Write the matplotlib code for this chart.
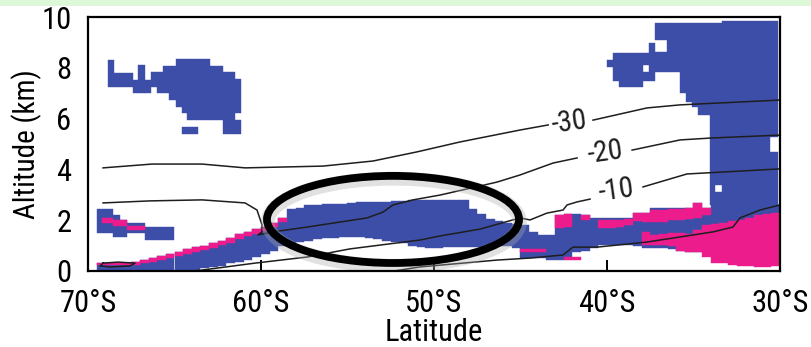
import numpy as np
import matplotlib
matplotlib.use("Agg")
import matplotlib.pyplot as plt
from matplotlib.patches import Ellipse, Rectangle
import matplotlib.patheffects as pe

plt.rcParams["font.family"] = ["Roboto Condensed", "Open Sans", "DejaVu Sans"]

BLUE = "#3d4ea8"
PINK = "#ec1c8d"

## cloud blocks, upper left (lat left, lat right, bottom km, top km)
ul_lat_l = [-68.84, -68.50, -67.40, -67.11, -66.71, -66.36, -66.01, -65.66, -65.32, -64.91, -64.57, -64.28, -62.95, -62.20, -61.50, -61.50, -64.57]
ul_lat_r = [-68.50, -67.40, -67.11, -66.71, -66.36, -66.01, -65.66, -65.32, -64.91, -64.57, -64.28, -62.95, -62.20, -61.50, -61.16, -61.16, -63.64]
ul_bot = [7.24, 7.24, 7.01, 7.01, 7.01, 7.24, 7.01, 7.01, 6.73, 6.46, 6.22, 5.94, 5.94, 5.39, 6.22, 5.39, 5.39]
ul_top = [8.31, 7.80, 7.52, 8.11, 7.52, 7.83, 7.83, 8.07, 8.07, 8.35, 8.35, 8.35, 8.07, 7.83, 7.56, 5.94, 5.67]

## cloud blocks, upper right tower
ur_lat_l = [-40.00, -39.65, -39.31, -37.92, -37.92, -37.57, -37.23, -37.23, -36.53, -35.78, -35.43, -35.09, -34.74,
            -34.05, -33.76, -33.76, -33.35, -30.57, -30.57]
ur_lat_r = [-39.65, -39.31, -37.92, -37.57, -37.57, -37.23, -36.53, -36.53, -35.78, -35.43, -35.09, -34.74, -34.05,
            -33.76, -33.35, -33.35, -30.57, -30.12, -30.12]
ur_bot = [8.03, 7.48, 7.24, 8.11, 7.48, 7.48, 9.09, 7.83, 7.83, 7.01, 6.65, 6.46, 6.14,
          2.60, 2.60, 3.39, 2.60, 2.60, 5.28]
ur_top = [8.31, 8.58, 8.58, 8.58, 7.83, 8.98, 9.78, 8.62, 9.78, 9.78, 9.78, 9.78, 9.78,
          9.78, 3.11, 9.78, 9.86, 4.69, 9.86]

## cloud blocks, lower left near 2 km
ll_lat_l = [-69.48, -68.55, -68.15, -67.75, -66.71]
ll_lat_r = [-68.55, -68.15, -67.75, -66.71, -65.03]
ll_bot = [1.50, 1.34, 1.34, 1.50, 1.22]
ll_top = [2.44, 2.20, 2.00, 1.89, 1.73]
llp_lat_l = [-69.19, -68.55, -67.75]
llp_lat_r = [-68.55, -67.75, -66.71]
llp_bot = [1.89, 1.77, 1.61]
llp_top = [2.09, 2.01, 1.77]

## low cloud band, 0.5 deg bins
band_lat = [-69.5, -69.0, -68.5, -68.0, -67.5, -67.0, -66.5, -66.0, -65.5, -65.0,
            -64.5, -64.0, -63.5, -63.0, -62.5, -62.0, -61.5, -61.0, -60.5, -60.0,
            -59.5, -59.0, -58.5, -58.0, -57.5, -57.0, -56.5, -56.0, -55.5, -55.0,
            -54.5, -54.0, -53.5, -53.0, -52.5, -52.0, -51.5, -51.0, -50.5, -50.0,
            -49.5, -49.0, -48.5, -48.0, -47.5, -47.0, -46.5, -46.0, -45.5, -45.0,
            -44.5, -44.0, -43.5, -43.0, -42.5, -42.0, -41.5, -41.0, -40.5, -40.0,
            -39.5, -39.0, -38.5, -38.0, -37.5, -37.0, -36.5, -36.0, -35.5, -35.0,
            -34.5, -34.0, -33.5, -33.0, -32.5, -32.0, -31.5, -31.0, -30.5]
band_bot = [0.05, 0.05, 0.05, 0.05, 0.05, 0.05, 0.05, 0.05, 0.05, 0.05,
            0.05, 0.05, 0.10, 0.15, 0.20, 0.30, 0.35, 0.45, 0.55, 0.65,
            0.80, 1.00, 1.10, 1.15, 1.20, 1.25, 1.30, 1.30, 1.35, 1.35,
            1.35, 1.30, 1.25, 1.20, 1.15, 1.10, 1.00, 0.95, 0.90, 0.90,
            0.95, 0.95, 0.95, 0.95, 0.95, 0.95, 1.00, 1.00, 0.90, 0.50,
            0.50, 0.50, 0.43, 0.43, 0.51, 0.75, 0.80, 0.90, 1.02, 1.02,
            1.02, 1.02, 1.00, 0.90, 0.90, 0.90, 0.85, 0.80, 0.75, 0.75,
            1.50, 1.70, 1.75, 1.80, 1.85, 1.90, 2.00, 2.10, 2.20]
band_top = [0.30, 0.30, 0.30, 0.32, 0.35, 0.45, 0.52, 0.60, 0.68, 0.76,
            0.85, 0.93, 1.00, 1.10, 1.20, 1.30, 1.45, 1.55, 1.65, 1.75,
            1.90, 2.10, 2.45, 2.50, 2.60, 2.60, 2.62, 2.65, 2.65, 2.68,
            2.70, 2.70, 2.72, 2.72, 2.75, 2.75, 2.78, 2.80, 2.80, 2.80,
            2.80, 2.80, 2.80, 2.45, 2.25, 2.05, 1.95, 1.90, 1.85, 1.80,
            1.55, 1.40, 1.42, 2.20, 2.24, 2.24, 2.20, 2.09, 2.09, 2.09,
            2.09, 2.09, 2.28, 2.28, 2.48, 2.48, 2.48, 2.48, 2.48, 2.68,
            2.48, 2.60, 2.60, 2.60, 2.60, 2.60, 2.60, 2.60, 2.60]
nan = np.nan
pink_hi_bot = [0.22, 0.22, 0.22, 0.24, 0.25, 0.30, 0.35, 0.42, 0.50, 0.58,
               0.67, 0.75, 0.82, 0.92, 1.02, 1.12, 1.27, 1.37, 1.47, 1.57,
               1.72, 1.92, nan, nan, nan, nan, nan, nan, nan, nan,
               nan, nan, nan, nan, nan, nan, nan, nan, nan, nan,
               nan, nan, nan, nan, nan, nan, nan, nan, nan, nan,
               nan, nan, nan, 1.70, 1.75, nan, 2.00, nan, 1.70, 1.70,
               1.75, 1.80, 1.95, 1.93, 1.93, 1.93, 2.00, 2.00, 2.05, 2.10,
               2.20, nan, nan, nan, nan, nan, nan, nan, nan]
pink_hi_top = [0.30, 0.30, 0.30, 0.32, 0.35, 0.45, 0.52, 0.60, 0.68, 0.76,
               0.85, 0.93, 1.00, 1.10, 1.20, 1.30, 1.45, 1.55, 1.65, 1.75,
               1.90, 2.10, nan, nan, nan, nan, nan, nan, nan, nan,
               nan, nan, nan, nan, nan, nan, nan, nan, nan, nan,
               nan, nan, nan, nan, nan, nan, nan, nan, nan, nan,
               nan, nan, nan, 2.20, 2.24, nan, 2.20, nan, 2.00, 2.00,
               2.00, 2.05, 2.28, 2.28, 2.40, 2.40, 2.45, 2.45, 2.48, 2.68,
               2.48, nan, nan, nan, nan, nan, nan, nan, nan]
pink_lo_bot = [nan] * 49 + [0.75, 0.75, 0.75, nan, nan, 0.43, 0.43, nan, nan, nan, nan,
                            nan, nan, nan, 1.02, 1.02, 1.02, 1.00, 0.80, 0.75, 0.75,
                            0.55, 0.30, 0.30, 0.25, 0.20, 0.20, 0.15, 0.15, 0.20]
pink_lo_top = [nan] * 49 + [0.85, 0.87, 0.85, nan, nan, 0.55, 0.55, nan, nan, nan, nan,
                            nan, nan, nan, 1.54, 1.40, 1.45, 1.50, 1.50, 1.45, 1.60,
                            1.80, 1.85, 1.90, 1.95, 2.00, 2.10, 2.20, 2.25, 2.30]
band_width = 0.5

## temperature contours (deg C)
c30_lat = [-69.13, -66.30, -63.41, -60.92, -56.42, -53.53, -50.98, -48.50, -45.03, -43.40, nan,
           -40.81, -37.69, -35.78, -30.00]
c30_alt = [4.06, 4.21, 4.21, 4.06, 4.13, 4.33, 4.69, 5.08, 5.55, 5.75, nan,
           5.94, 6.42, 6.54, 6.73]
c20_lat = [-69.13, -66.42, -63.41, -60.92, -60.23, -59.94, -59.94, -60.17, -59.31, -57.34, -53.87,
           -52.95, -52.37, -51.21, -49.65, -46.36, -45.03, -43.12, -41.73, nan,
           -38.55, -35.78, -33.87, -30.00]
c20_alt = [2.68, 2.76, 2.80, 2.68, 2.40, 1.81, 1.54, 1.42, 1.54, 1.73, 2.09,
           2.32, 2.60, 2.80, 2.99, 3.50, 3.78, 4.25, 4.45, nan,
           4.76, 5.16, 5.24, 5.35]
c10_lat = [-63.82, -60.35, -57.34, -54.86, -50.81, -49.65, -47.34, -45.03, -44.45, -43.47, -42.54,
           -42.31, -41.73, -40.98, nan, -37.92, -35.38, -30.00]
c10_alt = [0.00, 0.31, 0.55, 0.87, 1.22, 1.38, 1.65, 2.09, 2.01, 2.28, 2.40,
           2.60, 2.72, 2.83, nan, 3.31, 3.82, 4.02]
c0_lat = [-52.31, -50.81, -46.36, -44.45, -42.54, -41.97, -40.58, -37.69, -35.78, -33.87, -32.72,
          -32.31, -31.16, -30.00]
c0_alt = [0.00, 0.16, 0.43, 0.51, 0.63, 0.94, 0.94, 1.14, 1.34, 1.54, 1.73,
          2.09, 2.40, 2.60]
loop_lat = [-69.13, -68.27, -67.28, -67.57, -68.73, -69.31, -69.13]
loop_alt = [0.31, 0.35, 0.31, 0.20, 0.16, 0.20, 0.31]

contour_labels = ["-30", "-20", "-10"]
label_lat = [-42.2, -40.1, -39.5]
label_alt = [5.85, 4.65, 3.15]

x_ticks = [-70, -60, -50, -40, -30]
x_ticklabels = ["70°S", "60°S", "50°S", "40°S", "30°S"]
y_ticks = [0, 2, 4, 6, 8, 10]

## highlighted region
ell_lat, ell_alt, ell_w, ell_h = -52.37, 2.03, 14.57, 3.43


def draw_blocks(ax, lat_l, lat_r, bot, top, color):
    lat_l, lat_r = np.asarray(lat_l, float), np.asarray(lat_r, float)
    bot, top = np.asarray(bot, float), np.asarray(top, float)
    ok = ~np.isnan(bot) & ~np.isnan(top)
    ax.bar(lat_l[ok], (top - bot)[ok], width=(lat_r - lat_l)[ok], bottom=bot[ok], align="edge",
           color=color, edgecolor=color, linewidth=0.3, zorder=2)


fig = plt.figure(figsize=(8.12, 3.47), dpi=100)
fig.patches.append(Rectangle((0, 1 - 6 / 347), 1, 6 / 347, transform=fig.transFigure,
                             facecolor="#dcf8d8", edgecolor="none", zorder=0))
ax = fig.add_axes([88 / 812, 1 - 271 / 347, 692 / 812, 254 / 347])

band_lat_r = [b + band_width for b in band_lat]
draw_blocks(ax, ul_lat_l, ul_lat_r, ul_bot, ul_top, BLUE)
draw_blocks(ax, ur_lat_l, ur_lat_r, ur_bot, ur_top, BLUE)
draw_blocks(ax, ll_lat_l, ll_lat_r, ll_bot, ll_top, BLUE)
draw_blocks(ax, band_lat, band_lat_r, band_bot, band_top, BLUE)
draw_blocks(ax, llp_lat_l, llp_lat_r, llp_bot, llp_top, PINK)
draw_blocks(ax, band_lat, band_lat_r, pink_hi_bot, pink_hi_top, PINK)
draw_blocks(ax, band_lat, band_lat_r, pink_lo_bot, pink_lo_top, PINK)

for lat, alt in [(c30_lat, c30_alt), (c20_lat, c20_alt), (c10_lat, c10_alt), (c0_lat, c0_alt), (loop_lat, loop_alt)]:
    ax.plot(lat, alt, color="#1e1e1e", linewidth=1.1, zorder=3)

for txt, lat, alt in zip(contour_labels, label_lat, label_alt):
    ax.text(lat, alt, txt, fontsize=21, ha="center", va="center", rotation=8, color="#1e1e1e", zorder=4)

ell = Ellipse((ell_lat, ell_alt), ell_w, ell_h, fill=False, edgecolor="black", linewidth=5.6, zorder=5)
ell.set_path_effects([pe.SimpleLineShadow(offset=(0.5, -2), shadow_color="#aaaaaa", alpha=0.35, linewidth=10),
                      pe.Normal()])
ax.add_patch(ell)

ax.set_xlim(-70, -30)
ax.set_ylim(0, 10)
ax.set_xticks(x_ticks)
ax.set_xticklabels(x_ticklabels)
ax.set_yticks(y_ticks)
ax.tick_params(axis="x", direction="in", length=8, width=1.4, pad=13, labelsize=22)
ax.tick_params(axis="y", length=0, pad=12, labelsize=22)
for s in ax.spines.values():
    s.set_linewidth(1.6)
    s.set_zorder(6)
ax.set_xlabel("Latitude", fontsize=22, labelpad=0)
ax.set_ylabel("Altitude (km)", fontsize=21, labelpad=-1)

fig.savefig("out.png", dpi=100)
